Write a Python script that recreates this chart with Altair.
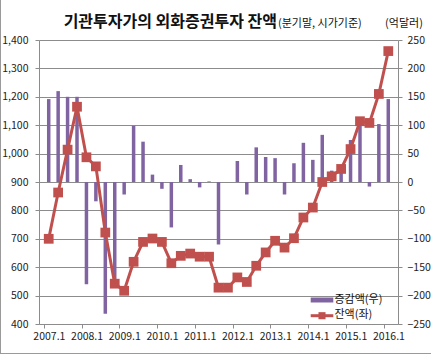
import altair as alt
import pandas as pd

# ---- data ----
quarters = [f"{y}.{q}" for y in range(2007, 2017) for q in range(1, 5)][:37]
balance = [700, 863, 1014, 1165, 987, 955, 722, 542, 517, 619, 689, 701, 689, 614,
           640, 648, 637, 637, 528, 528, 564, 548, 605, 652, 693, 669, 702, 775,
           810, 900, 920, 946, 1016, 1114, 1108, 1210, 1361]
change = [146, 160, 150, 150, -180, -34, -232, -183, -22, 99, 71, 13, -12, -80,
          30, 5, -9.5, 1, -110, 0, 37, -22, 61, 44, 42, -22, 33, 69, 39, 83,
          20, 26, 74, 99, -8, 102, 146]
left_ticks = list(range(400, 1401, 100))
right_ticks = list(range(-250, 251, 50))
year_ticks = list(range(0, 37, 4))

df = pd.DataFrame({
    "q": quarters,
    "pos": [i + 0.5 for i in range(len(quarters))],
    "balance": balance,
    "change": change,
})

FONT = "Noto Sans CJK KR"
GRAY = "#8c8c8c"
PURPLE = "#8064A2"
RED = "#C0504D"
W, H = 359, 284

x_enc = alt.X(
    "pos:Q",
    scale=alt.Scale(domain=[0, 37], nice=False, zero=False),
    axis=alt.Axis(
        values=year_ticks,
        labelExpr="toString(2007 + datum.value / 4) + '.1'",
        labelOffset=4.85,
        tickSize=4, tickColor=GRAY, domainColor=GRAY,
        grid=False, title=None, labelFont=FONT, labelFontSize=10.5,
        labelColor="#222", labelPadding=3, labelFlush=False, labelOverlap=False,
    ),
)

base = alt.Chart(df)

bars = base.mark_bar(size=3.5, color=PURPLE).encode(
    x=x_enc,
    y=alt.Y(
        "change:Q",
        scale=alt.Scale(domain=[-250, 250], nice=False),
        axis=alt.Axis(
            orient="right", values=right_ticks, format=".0f", grid=False, title=None,
            tickSize=4, tickColor=GRAY, domainColor=GRAY,
            labelFont=FONT, labelFontSize=10.5, labelColor="#222", labelPadding=5,
            labelFlush=False, labelOverlap=False,
        ),
    ),
)

line = base.mark_line(
    color=RED, strokeWidth=3,
    point=alt.OverlayMarkDef(shape="square", size=95, filled=True, color=RED, opacity=1),
).encode(
    x=x_enc,
    y=alt.Y(
        "balance:Q",
        scale=alt.Scale(domain=[400, 1400], nice=False, zero=False),
        axis=alt.Axis(
            orient="left", values=left_ticks, format=",.0f", grid=True,
            gridColor=GRAY, gridWidth=1, title=None,
            tickSize=4, tickColor=GRAY, domainColor=GRAY,
            labelFont=FONT, labelFontSize=10.5, labelColor="#222", labelPadding=7,
            labelFlush=False, labelOverlap=False,
        ),
    ),
)

one = pd.DataFrame({"k": [0]})
c1 = alt.Chart(one)

title_main = c1.mark_text(
    text="기관투자가의 외화증권투자 잔액", font=FONT, fontSize=16, fontWeight="bold",
    align="right", baseline="alphabetic", color="#111",
).encode(x=alt.value(238), y=alt.value(-13.5))

title_sub = c1.mark_text(
    text="(분기말, 시가기준)", font=FONT, fontSize=11,
    align="left", baseline="alphabetic", color="#111",
).encode(x=alt.value(239), y=alt.value(-13.5))

unit = c1.mark_text(
    text="(억달러)", font=FONT, fontSize=11,
    align="center", baseline="alphabetic", color="#111",
).encode(x=alt.value(365), y=alt.value(-13))

leg_bar = c1.mark_rect(color=PURPLE).encode(
    x=alt.value(271.7), x2=alt.value(294.3), y=alt.value(257.5), y2=alt.value(262.5))
leg_bar_t = c1.mark_text(
    text="증감액(우)", font=FONT, fontSize=11, align="left", baseline="middle", color="#111",
).encode(x=alt.value(295.5), y=alt.value(259.5))

leg_line = c1.mark_rule(color=RED, strokeWidth=3).encode(
    x=alt.value(271.7), x2=alt.value(294.3), y=alt.value(275.7))
leg_pt = c1.mark_point(shape="square", size=50, filled=True, color=RED, opacity=1).encode(
    x=alt.value(283), y=alt.value(275.7))
leg_line_t = c1.mark_text(
    text="잔액(좌)", font=FONT, fontSize=11, align="left", baseline="middle", color="#111",
).encode(x=alt.value(295.5), y=alt.value(274.8))

border_l = c1.mark_rule(color="#9a9a9a", strokeWidth=1).encode(
    x=alt.value(-38.5), y=alt.value(-40), y2=alt.value(313.5))
border_b = c1.mark_rule(color="#9a9a9a", strokeWidth=1).encode(
    x=alt.value(-39), x2=alt.value(392), y=alt.value(313.5))

chart = alt.layer(
    bars, line,
    title_main, title_sub, unit,
    leg_bar, leg_bar_t, leg_line, leg_pt, leg_line_t,
    border_l, border_b,
).resolve_scale(y="independent").properties(
    width=W, height=H,
    autosize=alt.AutoSizeParams(type="none"),
    padding={"left": 39, "top": 40, "right": 33, "bottom": 31},
    background="white",
).configure_view(stroke=None)

chart.save("out.html", embed_options={"renderer": "svg", "actions": False})
